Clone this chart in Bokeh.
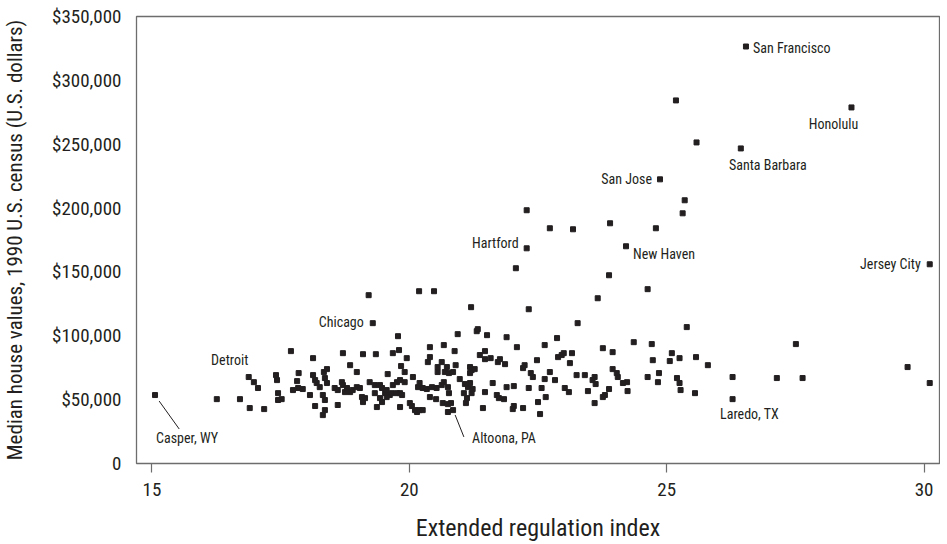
from bokeh.plotting import figure
from bokeh.embed import file_html
from bokeh.resources import INLINE
from bokeh.models import FixedTicker, NumeralTickFormatter, ColumnDataSource
from bokeh.core.properties import value

FONT = "Roboto Condensed"

# ---- data: extended regulation index (x) and median house value in dollars (y)
reg_index = [
    16.26, 16.71, 16.90, 17.18, 16.98, 17.06, 17.41, 17.43, 17.45, 17.45, 17.52, 17.70, 17.85, 17.82,
    17.74, 17.84, 17.93, 18.07, 18.13, 18.13, 18.17, 18.20, 18.17,
    19.78, 18.71, 19.10, 19.35, 19.68, 19.80, 19.95, 18.85, 18.98, 19.58, 19.84, 19.91, 20.07, 18.34,
    18.40, 18.36, 18.40, 18.26, 18.32, 18.36, 18.55, 18.61, 18.69, 18.71, 18.75, 18.79, 18.85, 18.90,
    18.98, 19.04, 19.08, 19.10, 19.14, 19.23, 19.33, 19.43, 19.47, 19.53, 19.56, 19.62, 19.66, 19.68,
    19.76, 19.82, 19.91, 19.76, 19.82, 19.86, 19.33, 19.43, 19.47, 19.37, 19.82, 20.01, 20.05, 20.11,
    20.15, 20.20, 20.26, 20.17, 20.20, 20.26, 18.36, 18.32, 18.61, 19.56,
    20.94, 21.31, 21.51, 21.89, 20.40, 20.67, 20.88, 22.09, 21.37, 21.47, 21.47, 21.58, 21.72, 21.76,
    21.86, 20.40, 20.36, 20.63, 20.55, 20.55, 20.73, 20.69, 20.77, 20.85, 20.90, 21.18, 21.21, 21.27,
    21.18, 22.24, 22.21, 22.36, 22.40, 20.98, 20.67, 20.63, 20.44, 20.53, 20.34, 20.75, 20.77, 21.08,
    21.14, 21.18, 21.23, 21.21, 21.06, 21.47, 21.62, 21.89, 22.03, 21.70, 21.74, 21.84, 20.40, 20.52,
    20.65, 20.75, 20.81, 21.12, 21.10, 21.43, 22.03, 22.01, 22.21, 20.85, 22.32,
    23.27, 25.39, 22.63, 22.87, 22.89, 22.96, 23.00, 23.16, 22.48, 23.12, 23.76, 23.95, 24.36, 24.71,
    25.10, 25.06, 24.73, 25.25, 25.57, 25.80, 22.63, 22.73, 22.83, 23.25, 23.41, 23.60, 23.56, 23.62,
    23.95, 24.03, 24.05, 24.23, 24.15, 24.24, 24.63, 24.85, 24.83, 25.20, 25.25, 25.27, 25.55, 22.57,
    23.02, 23.10, 23.47, 23.88, 23.80, 23.76, 22.65, 22.50, 23.60, 22.54,
    26.28, 27.14, 27.64, 27.51, 29.68, 30.11,
    19.21, 20.19, 20.48, 21.20, 22.07, 22.28, 21.33, 22.32, 25.18, 25.58, 25.35, 25.31, 22.73, 23.18,
    23.90, 24.79, 23.88, 23.66, 24.63,
]
house_value = [
    50400, 50400, 43400, 42600, 63700, 59100, 69200, 65300, 55100, 49700, 50400, 88000, 70800, 64500,
    57500, 59100, 58300, 53600, 82500, 69200, 65300, 63000, 45000,
    99700, 86400, 85600, 85600, 86400, 88800, 82500, 77000, 71600, 70000, 76300, 71600, 67700, 71600,
    73900, 66900, 63000, 59800, 53600, 49700, 59100, 57500, 63700, 61400, 55900, 59100, 55900, 57500,
    59800, 59100, 52000, 48100, 51200, 63700, 61400, 61400, 59100, 55100, 57500, 53600, 55100, 61400,
    63700, 65300, 63700, 55100, 55100, 53600, 55100, 51200, 48100, 44200, 44200, 47300, 45000, 41800,
    40300, 41800, 41800, 59800, 63000, 59100, 41800, 37900, 45800, 52000,
    101300, 103600, 100500, 98900, 91100, 92700, 88000, 91100, 84900, 88000, 81700, 82500, 79400, 81700,
    77800, 83300, 79400, 79400, 75500, 71600, 75500, 71600, 70800, 71600, 77000, 75500, 73100, 73900,
    70800, 77000, 74700, 70800, 67700, 66100, 63700, 61400, 59800, 59100, 58300, 59800, 55100, 62200,
    59800, 63000, 58300, 55100, 55100, 55900, 63000, 59800, 60600, 53600, 51200, 50400, 52000, 50400,
    47300, 46500, 47300, 51200, 47300, 43400, 45000, 42600, 43400, 41800, 59100,
    109900, 106800, 92700, 98200, 83300, 84900, 86400, 86400, 80900, 78600, 90300, 87200, 95000, 93500,
    86400, 80200, 80900, 82500, 83300, 77000, 66100, 71600, 65300, 69200, 69200, 67700, 65300, 62200,
    73900, 70800, 67700, 63700, 63000, 56700, 67700, 70800, 63700, 66900, 63000, 57500, 55100, 59100,
    59100, 55900, 56700, 58300, 53600, 52000, 52000, 48100, 47300, 38700,
    67700, 66900, 66900, 93500, 75500, 63000,
    131800, 134900, 134900, 122400, 152900, 198300, 105200, 120800, 284300, 251400, 206100, 195900, 184200, 183400,
    188100, 184200, 147400, 129400, 136500,
]

# ---- labelled cities
city_names = ["San Francisco", "Honolulu", "Santa Barbara", "San Jose", "New Haven", "Hartford",
              "Chicago", "Detroit", "Jersey City", "Laredo, TX", "Casper, WY", "Altoona, PA"]
city_index = [26.54, 28.59, 26.44, 24.87, 24.21, 22.28, 19.29, 16.88, 30.11, 26.28, 15.06, 20.75]
city_value = [326500, 278800, 246700, 222500, 170100, 168500, 109900, 67700, 156000, 50400, 53600, 40300]

# ---- tick values
x_ticks = [15, 20, 25, 30]
y_ticks = [0, 50000, 100000, 150000, 200000, 250000, 300000, 350000]

# label placement (pixel offsets from the city point) -- layout only
lab_dx = [7, -18, 27, -8, 7, -8, -9, -19, -9, 17, 32, 56]
lab_dy = [1, 17, 17, 0, 8, -5, -1, -17, 0, 15, 43, 26]
lab_anchor = ["center_left", "center", "center", "center_right", "center_left", "center_right",
              "center_right", "center", "center_right", "center", "center", "center"]

INK = "#231f20"
FRAME = "#6d6d6d"

p = figure(frame_width=803, frame_height=447, output_backend="svg", toolbar_location=None,
           x_range=(14.7, 30.3), y_range=(0, 350000),
           min_border_left=128, min_border_right=1, min_border_top=16, min_border_bottom=20)
p.background_fill_color = "white"
p.border_fill_color = "white"
p.outline_line_color = FRAME
p.outline_line_width = 1.3
p.xgrid.visible = False
p.ygrid.visible = False

p.scatter(reg_index, house_value, marker="square", size=5, color=INK)
p.scatter(city_index, city_value, marker="square", size=5, color=INK)

src = ColumnDataSource(dict(x=city_index, y=city_value, t=city_names, dx=lab_dx, dy=lab_dy, a=lab_anchor))
p.text(x="x", y="y", text="t", x_offset="dx", y_offset="dy", anchor="a", source=src,
       text_font=value(FONT), text_font_size="14px", text_color=INK)

# leader lines for Casper and Altoona
ci = city_names.index("Casper, WY")
ai = city_names.index("Altoona, PA")
p.segment(x0=[city_index[ci] + 0.08, city_index[ai] + 0.14],
          y0=[city_value[ci] - 4700, city_value[ai] - 2300],
          x1=[city_index[ci] + 0.47, city_index[ai] + 0.31],
          y1=[city_value[ci] - 26600, city_value[ai] - 19500],
          line_color=INK, line_width=1)

# x axis
xa = p.xaxis[0]
xa.ticker = FixedTicker(ticks=x_ticks)
xa.axis_line_color = None
xa.major_tick_line_color = FRAME
xa.major_tick_line_width = 1.2
xa.major_tick_out = 9
xa.major_tick_in = 0
xa.minor_tick_line_color = None
xa.major_label_standoff = 10
xa.major_label_text_font = FONT
xa.major_label_text_font_size = "19px"
xa.major_label_text_color = INK
xa.axis_label = "Extended regulation index"
xa.axis_label_text_font = FONT
xa.axis_label_text_font_size = "24px"
xa.axis_label_text_font_style = "normal"
xa.axis_label_text_color = INK
xa.axis_label_standoff = 15

ya = p.yaxis[0]
ya.ticker = FixedTicker(ticks=y_ticks)
ya.formatter = NumeralTickFormatter(format="$0,0")
ya.major_label_overrides = {0: "0"}
ya.axis_line_color = None
ya.major_tick_line_color = None
ya.minor_tick_line_color = None
ya.major_label_standoff = 9
ya.major_label_text_font = FONT
ya.major_label_text_font_size = "19px"
ya.major_label_text_color = INK
ya.axis_label = "Median house values, 1990 U.S. census (U.S. dollars)"
ya.axis_label_text_font = FONT
ya.axis_label_text_font_size = "21px"
ya.axis_label_text_font_style = "normal"
ya.axis_label_text_color = INK
ya.axis_label_standoff = 22

open("out.html", "w").write(file_html(p, INLINE))
